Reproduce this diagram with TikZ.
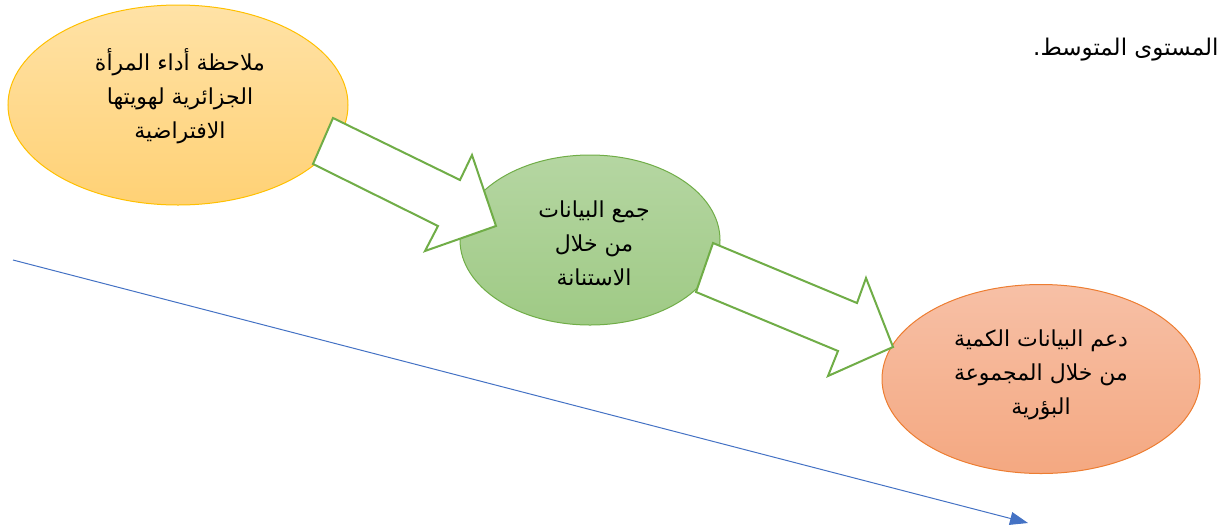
\documentclass[tikz,border=0pt]{standalone}
\usepackage{fontspec}
\TeXXeTstate=1
\newfontfamily\arabicfont[Script=Arabic]{DejaVu Sans}
\usetikzlibrary{shapes.geometric,arrows.meta}
\definecolor{yelB}{HTML}{FFC000}
\definecolor{yelT}{HTML}{FFE2A6}
\definecolor{yelD}{HTML}{FFD175}
\definecolor{grnB}{HTML}{70AD47}
\definecolor{grnT}{HTML}{B5D6A2}
\definecolor{grnD}{HTML}{9FCA85}
\definecolor{orgB}{HTML}{ED7D31}
\definecolor{orgT}{HTML}{F7C0A6}
\definecolor{orgD}{HTML}{F4A881}
\definecolor{bluL}{HTML}{4472C4}
\newcommand{\arl}[1]{\beginR #1\endR}
\tikzset{
  bubble/.style={ellipse, line width=1pt, inner sep=0pt},
  btext/.style={align=center, font=\arabicfont\fontsize{22}{34}\selectfont, text=black},
  blockarrow/.style={draw=grnB, fill=white, line width=2pt, line join=miter},
}
\begin{document}
\begin{tikzpicture}[x=1pt,y=-1pt]
\useasboundingbox (0,0) rectangle (1220,531);
% ellipses
\node[bubble, draw=yelB, top color=yelT, bottom color=yelD, minimum width=340pt, minimum height=200pt] (e1) at (178,105) {};
\node[bubble, draw=grnB, top color=grnT, bottom color=grnD, minimum width=260pt, minimum height=170pt] (e2) at (590,240) {};
\node[bubble, draw=orgB, top color=orgT, bottom color=orgD, minimum width=318pt, minimum height=189pt] (e3) at (1041,379) {};
% block arrows
\coordinate (a1t1) at (333,118);
\coordinate (a1t2) at (313,164);
\draw[blockarrow] (a1t1) -- (460,180) -- (472,155) -- (496,226) -- (425,251) -- (438,226) -- (a1t2) -- cycle;
\coordinate (a2t1) at (713,243);
\coordinate (a2t2) at (696,292);
\draw[blockarrow] (a2t1) -- (857,303) -- (866,278) -- (893,347) -- (828,376) -- (838,351) -- (a2t2) -- cycle;
% texts
\node[btext] (t1) at (180,96) {\arl{ملاحظة أداء المرأة}\\\arl{الجزائرية لهويتها}\\\arl{الافتراضية}};
\node[btext] (t2) at (594,243) {\arl{جمع البيانات}\\\arl{من خلال}\\\arl{الاستنانة}};
\node[btext] (t3) at (1041,375) {\arl{دعم البيانات الكمية}\\\arl{من خلال المجموعة}\\\arl{البؤرية}};
\node[anchor=east, font=\arabicfont\fontsize{23}{28}\selectfont] (top) at (1222,50) {\arl{المستوى المتوسط.}};
% blue arrow
\coordinate (b1) at (13,260);
\coordinate (b2) at (1028,523);
\draw[bluL, line width=1pt, -{Triangle[length=18pt,width=13pt]}] (b1) -- (b2);
\end{tikzpicture}
\end{document}
